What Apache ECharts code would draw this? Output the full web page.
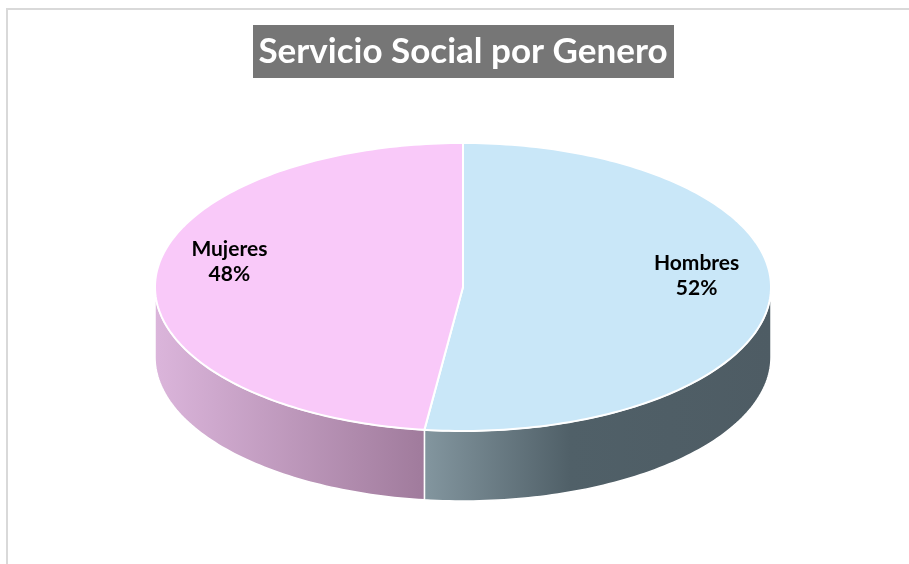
<!DOCTYPE html>
<html>
<head>
<meta charset="utf-8">
<script src="https://cdn.jsdelivr.net/npm/echarts@6/dist/echarts.min.js"></script>
<style>
html, body { margin: 0; padding: 0; background: #fff; }
#chart { width: 909px; height: 564px; }
</style>
</head>
<body>
<div id="chart"></div>
<script>
var categories = ['Hombres', 'Mujeres'];
var values = [52, 48];

var topColors = ['#c9e7f8', '#f9c9f9'];
var sideColors = [
    [{ offset: 0, color: '#83969f' }, { offset: 0.42, color: '#506068' }, { offset: 1, color: '#4e5c64' }],
    [{ offset: 0, color: '#dbb5db' }, { offset: 1, color: '#a07b9c' }]
];

// ellipse of the pie top and thickness of the wall
var cx = 463, cy = 287, rx = 308, ry = 144, depth = 70;

var total = values.reduce(function (a, b) { return a + b; }, 0);
var starts = [];
var acc = 0;
values.forEach(function (v) {
    starts.push(acc / total * Math.PI * 2);
    acc += v;
});

// t is measured clockwise from 12 o'clock
function pt(t, dy) {
    return [cx + rx * Math.sin(t), cy - ry * Math.cos(t) + (dy || 0)];
}

function arcPoints(a, b, dy) {
    var pts = [];
    var n = Math.max(2, Math.ceil((b - a) / 0.02));
    for (var i = 0; i <= n; i++) {
        pts.push(pt(a + (b - a) * i / n, dy));
    }
    return pts;
}

function renderItem(params, api) {
    var i = params.dataIndex;
    var v = api.value(1);
    var a = starts[i];
    var b = a + v / total * Math.PI * 2;
    var children = [];

    // front wall, only the half facing the viewer
    var sa = Math.max(a, Math.PI / 2);
    var sb = Math.min(b, Math.PI * 1.5);
    if (sb > sa) {
        var upper = arcPoints(sa, sb, 0);
        var lower = arcPoints(sa, sb, depth).reverse();
        var xs = upper.map(function (p) { return p[0]; });
        var x0 = Math.min.apply(null, xs);
        var x1 = Math.max.apply(null, xs);
        children.push({
            type: 'polygon',
            shape: { points: upper.concat(lower) },
            style: {
                fill: new echarts.graphic.LinearGradient(x0, 0, x1, 0, sideColors[i], true),
                stroke: '#fff',
                lineWidth: 1.5
            }
        });
    }

    // top face
    children.push({
        type: 'polygon',
        shape: { points: [[cx, cy]].concat(arcPoints(a, b, 0)) },
        style: { fill: topColors[i], stroke: '#fff', lineWidth: 2 }
    });

    // label
    var m = (a + b) / 2;
    var lp = [cx + 0.76 * rx * Math.sin(m), cy - 0.76 * ry * Math.cos(m) - 18];
    children.push({
        type: 'text',
        x: lp[0],
        y: lp[1],
        style: {
            text: categories[i] + '\n' + Math.round(v / total * 100) + '%',
            font: 'bold 21px Lato',
            fill: '#000',
            align: 'center',
            verticalAlign: 'middle',
            lineHeight: 25
        }
    });

    return { type: 'group', children: children };
}

var chartDom = document.getElementById('chart');
var myChart = echarts.init(chartDom);
var option;

option = {
    animation: false,
    backgroundColor: '#fff',
    title: {
        text: 'Servicio Social por Genero',
        left: 463,
        top: 25,
        textAlign: 'center',
        padding: 0,
        textStyle: {
            color: '#fff',
            fontFamily: 'Lato',
            fontWeight: 'bold',
            fontSize: 35,
            lineHeight: 53
        }
    },
    graphic: [
        {
            type: 'polyline',
            shape: { points: [[7, 564], [7, 9], [909, 9]] },
            style: { stroke: '#d9d9d9', lineWidth: 2, fill: null }
        },
        {
            type: 'rect',
            shape: { x: 253, y: 25, width: 421, height: 53 },
            style: { fill: '#767676' },
            z: -1
        }
    ],
    series: [
        {
            type: 'custom',
            coordinateSystem: 'none',
            renderItem: renderItem,
            data: categories.map(function (c, i) {
                return { name: c, value: [i, values[i]] };
            })
        }
    ]
};

option && myChart.setOption(option);
</script>
</body>
</html>
